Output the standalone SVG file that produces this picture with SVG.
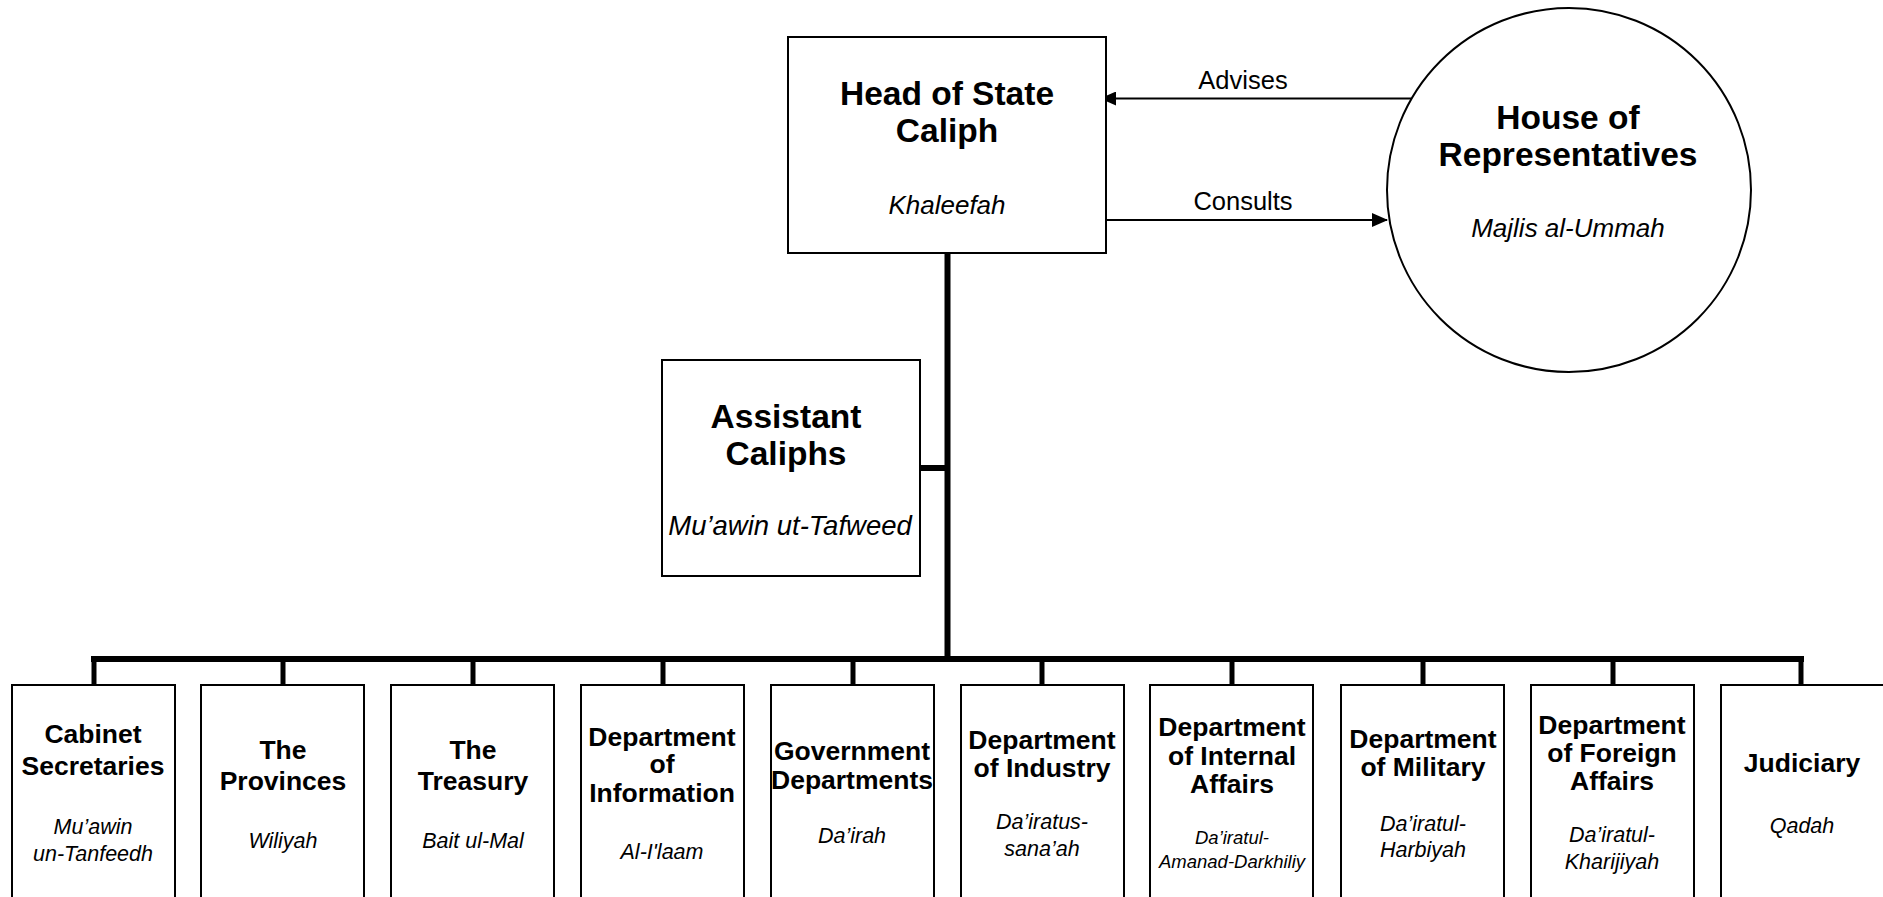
<svg xmlns="http://www.w3.org/2000/svg" width="1883" height="897" viewBox="0 0 1883 897">
<defs>
<style>
.box{fill:#fff;stroke:#000;stroke-width:2}
.t{font-family:"Liberation Sans",Arial,sans-serif;font-weight:bold;text-anchor:middle;fill:#000}
.big{font-size:33.5px}
.sm{font-size:26.5px}
.i{font-family:"Liberation Sans",Arial,sans-serif;font-style:italic;text-anchor:middle;fill:#000}
.ib{font-size:26px}
.is{font-size:21.5px}
.lbl{font-family:"Liberation Sans",Arial,sans-serif;font-size:25.5px;text-anchor:middle;fill:#000}
.thick{stroke:#000;stroke-width:6;fill:none}
.drop{stroke:#000;stroke-width:5;fill:none}
.thin{stroke:#000;stroke-width:2;fill:none}
</style>
<marker id="ah2" markerWidth="16" markerHeight="14" refX="15" refY="7" orient="auto" markerUnits="userSpaceOnUse" viewBox="0 0 16 14">
<path d="M0,0 L16,7 L0,14 z" fill="#000"/>
</marker>
</defs>
<rect width="1883" height="897" fill="#fff"/>

<g id="connectors">
<line class="thick" x1="947.5" y1="253" x2="947.5" y2="659"/>
<line class="thick" x1="920" y1="468" x2="947.5" y2="468"/>
<line class="thick" x1="91" y1="659" x2="1804" y2="659"/>
<line class="drop" x1="94" y1="659" x2="94" y2="685"/>
<line class="drop" x1="283" y1="659" x2="283" y2="685"/>
<line class="drop" x1="473" y1="659" x2="473" y2="685"/>
<line class="drop" x1="663" y1="659" x2="663" y2="685"/>
<line class="drop" x1="853" y1="659" x2="853" y2="685"/>
<line class="drop" x1="1042" y1="659" x2="1042" y2="685"/>
<line class="drop" x1="1232" y1="659" x2="1232" y2="685"/>
<line class="drop" x1="1423" y1="659" x2="1423" y2="685"/>
<line class="drop" x1="1613" y1="659" x2="1613" y2="685"/>
<line class="drop" x1="1801" y1="659" x2="1801" y2="685"/>
<line class="thin" x1="1411" y1="98.5" x2="1101" y2="98.5" marker-end="url(#ah2)"/>
<line class="thin" x1="1101" y1="220" x2="1387" y2="220" marker-end="url(#ah2)"/>
<text class="lbl" x="1243" y="89">Advises</text>
<text class="lbl" x="1243" y="210">Consults</text>
</g>

<g id="head">
<rect class="box" x="788" y="37" width="318" height="216"/>
<text class="t big" x="947" y="105">Head of State</text>
<text class="t big" x="947" y="142">Caliph</text>
<text class="i ib" x="947" y="214">Khaleefah</text>
</g>

<g id="house">
<circle class="box" cx="1569" cy="190" r="182"/>
<text class="t big" x="1568" y="129">House of</text>
<text class="t big" x="1568" y="166">Representatives</text>
<text class="i ib" x="1568" y="237">Majlis al-Ummah</text>
</g>

<g id="assistant">
<rect class="box" x="662" y="360" width="258" height="216"/>
<text class="t big" x="786" y="428">Assistant</text>
<text class="t big" x="786" y="465">Caliphs</text>
<text class="i" style="font-size:27.5px" x="790" y="535">Mu’awin ut-Tafweed</text>
</g>

<g id="cabinet">
<rect class="box" x="12" y="685" width="163" height="230"/>
<text class="t sm" x="93" y="743">Cabinet</text>
<text class="t sm" x="93" y="775">Secretaries</text>
<text class="i is" x="93" y="834">Mu’awin</text>
<text class="i is" x="93" y="861">un-Tanfeedh</text>
</g>

<g id="provinces">
<rect class="box" x="201" y="685" width="163" height="230"/>
<text class="t sm" x="283" y="759">The</text>
<text class="t sm" x="283" y="790">Provinces</text>
<text class="i is" x="283" y="848">Wiliyah</text>
</g>

<g id="treasury">
<rect class="box" x="391" y="685" width="163" height="230"/>
<text class="t sm" x="473" y="759">The</text>
<text class="t sm" x="473" y="790">Treasury</text>
<text class="i is" x="473" y="848">Bait ul-Mal</text>
</g>

<g id="information">
<rect class="box" x="581" y="685" width="163" height="230"/>
<text class="t sm" x="662" y="746">Department</text>
<text class="t sm" x="662" y="773">of</text>
<text class="t sm" x="662" y="802">Information</text>
<text class="i is" x="662" y="859">Al-I'laam</text>
</g>

<g id="government">
<rect class="box" x="771" y="685" width="163" height="230"/>
<text class="t sm" x="852" y="760">Government</text>
<text class="t sm" x="852" y="789">Departments</text>
<text class="i is" x="852" y="843">Da’irah</text>
</g>

<g id="industry">
<rect class="box" x="961" y="685" width="163" height="230"/>
<text class="t sm" x="1042" y="749">Department</text>
<text class="t sm" x="1042" y="777">of Industry</text>
<text class="i is" x="1042" y="829">Da’iratus-</text>
<text class="i is" x="1042" y="856">sana’ah</text>
</g>

<g id="internal">
<rect class="box" x="1150" y="685" width="163" height="230"/>
<text class="t sm" x="1232" y="736">Department</text>
<text class="t sm" x="1232" y="765">of Internal</text>
<text class="t sm" x="1232" y="793">Affairs</text>
<text class="i" style="font-size:18.5px" x="1232" y="844">Da’iratul-</text>
<text class="i" style="font-size:18.5px" x="1232" y="868">Amanad-Darkhiliy</text>
</g>

<g id="military">
<rect class="box" x="1341" y="685" width="163" height="230"/>
<text class="t sm" x="1423" y="748">Department</text>
<text class="t sm" x="1423" y="776">of Military</text>
<text class="i is" x="1423" y="831">Da’iratul-</text>
<text class="i is" x="1423" y="857">Harbiyah</text>
</g>

<g id="foreign">
<rect class="box" x="1531" y="685" width="163" height="230"/>
<text class="t sm" x="1612" y="734">Department</text>
<text class="t sm" x="1612" y="762">of Foreign</text>
<text class="t sm" x="1612" y="790">Affairs</text>
<text class="i is" x="1612" y="842">Da’iratul-</text>
<text class="i is" x="1612" y="869">Kharijiyah</text>
</g>

<g id="judiciary">
<rect class="box" x="1721" y="685" width="163" height="230"/>
<text class="t sm" x="1802" y="772">Judiciary</text>
<text class="i is" x="1802" y="833">Qadah</text>
</g>
</svg>
